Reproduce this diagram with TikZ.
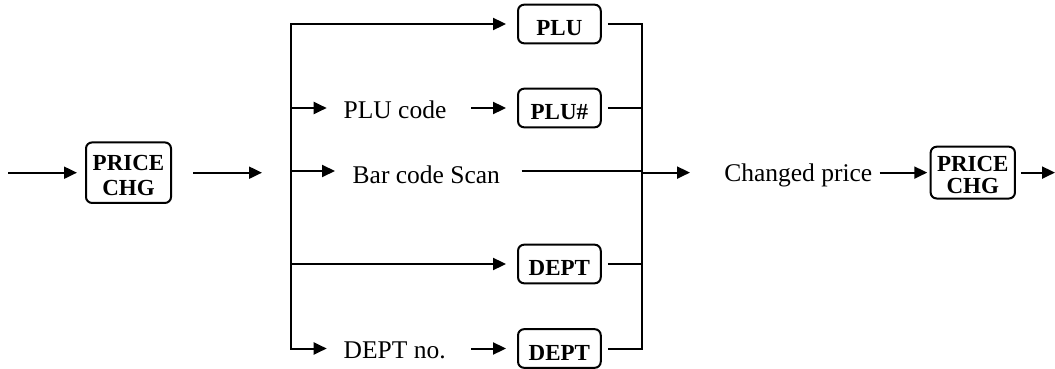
\documentclass[tikz,border=0pt]{standalone}
\usepackage{fontspec}
\setmainfont{Liberation Serif}
\usetikzlibrary{arrows.meta}
\begin{document}
\begin{tikzpicture}[x=1pt,y=-1pt,line width=2pt,
  arr/.style={-{Triangle[length=13pt,width=12pt]}},
  keybox/.style={draw,rounded corners=6pt,minimum width=82.7pt,minimum height=38.6pt,inner sep=0pt,
    font=\fontsize{23}{24}\selectfont\bfseries},
  key/.style={keybox,text height=23pt,text depth=0pt},
  lbl/.style={inner sep=0pt,anchor=base west,font=\fontsize{25.5}{28}\selectfont}]
\useasboundingbox (0,0) rectangle (1055,369);
% keys
\node[keybox,minimum width=85pt,minimum height=60.5pt,font=\fontsize{23}{25}\selectfont\bfseries] (pc1) at (128.5,172.7)
  {\raisebox{-5pt}[\height][\depth]{\begin{tabular}{@{}c@{}}PRICE\\CHG\end{tabular}}};
\node[key] (plu) at (559.4,24) {PLU};
\node[key] (plun) at (559.4,108) {PLU\#};
\node[key] (dept) at (559.4,264) {DEPT};
\node[key] (dept2) at (559.4,348.5) {DEPT};
\node[keybox,minimum width=84.3pt,minimum height=51.8pt,font=\fontsize{23}{22}\selectfont\bfseries] (pc2) at (972.8,172.6)
  {\raisebox{-5.5pt}[\height][\depth]{\begin{tabular}{@{}c@{}}PRICE\\CHG\end{tabular}}};
% labels
\node[lbl] (plucode) at (342.7,118) {PLU code};
\node[lbl] (bar) at (351.7,183) {Bar code Scan};
\node[lbl] (deptno) at (342.7,358) {DEPT no.};
\node[lbl] (chg) at (723.3,181.5) {Changed price};
% coordinates
\coordinate (in) at (8,172.7);
\coordinate (split) at (262,172.7);
\coordinate (lt) at (290.7,24);
\coordinate (lb) at (290.7,348.5);
\coordinate (rt) at (641.7,24);
\coordinate (rb) at (641.7,348.5);
\coordinate (barrow) at (0,171);
\coordinate (outrow) at (0,172.6);
\coordinate (join) at (690,172.6);
\coordinate (out) at (1055,172.6);
% connectors
\draw[arr] (in) -- ([xshift=-8pt]pc1.west);
\draw[arr] ([xshift=21pt]pc1.east) -- (split);
\draw[arr] (lb) -- (lt) -- ([xshift=-11pt]plu.west);
\draw[arr] (lt |- plun) -- ++(36,0);
\draw[arr] ([xshift=-46pt]plun.west) -- ([xshift=-11pt]plun.west);
\draw[arr] (lt |- barrow) -- ++(44.3,0);
\draw ([xshift=-120pt]rt |- barrow) -- (rt |- barrow);
\draw[arr] (lt |- dept) -- ([xshift=-11pt]dept.west);
\draw[arr] (lt |- dept) -- (lb) -- ++(36,0);
\draw[arr] ([xshift=-46pt]dept2.west) -- ([xshift=-11pt]dept2.west);
\draw ([xshift=6pt]plu.east) -- (rt) -- (rb) -- ([xshift=6pt]dept2.east);
\draw ([xshift=6pt]plun.east) -- (rt |- plun);
\draw ([xshift=6pt]dept.east) -- (rt |- dept);
\draw[arr] (rt |- outrow) -- (join);
\draw[arr] ([xshift=-50pt]pc2.west) -- ([xshift=-2.4pt]pc2.west);
\draw[arr] ([xshift=5pt]pc2.east) -- (out);
\end{tikzpicture}
\end{document}
